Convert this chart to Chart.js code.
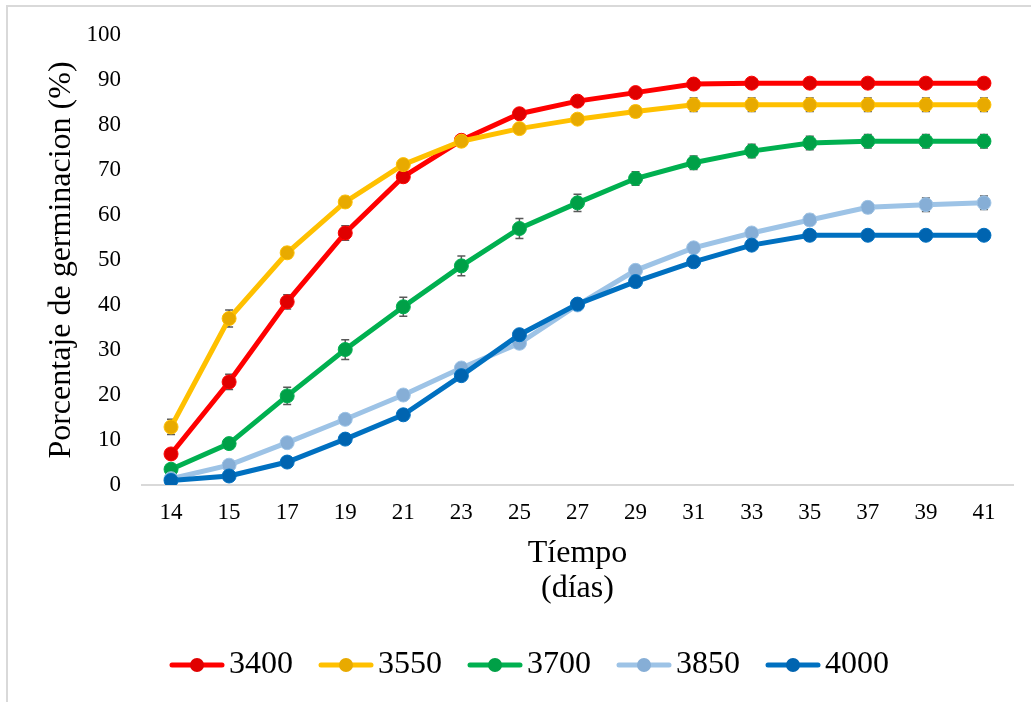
<!DOCTYPE html>
<html>
<head>
<meta charset="utf-8">
<script src="https://cdn.jsdelivr.net/npm/chart.js@4"></script>
<style>
  html, body { margin: 0; padding: 0; background: #fff; }
  #wrap { position: relative; width: 1031px; height: 702px; }
  #frame { position: absolute; left: 6px; top: 5px; right: -10px; bottom: -10px;
           border-left: 2px solid #d9d9d9; border-top: 2px solid #d9d9d9; pointer-events: none; }
</style>
</head>
<body>
<div id="wrap">
  <canvas id="germChart"></canvas>
  <div id="frame"></div>
</div>
<script>
// Germination curves by altitude

const days = ['14', '15', '17', '19', '21', '23', '25', '27', '29', '31', '33', '35', '37', '39', '41'];
const seriesNames = ['3400', '3550', '3700', '3850', '4000'];

const germ3400 = [6.9, 22.9, 40.7, 56.0, 68.5, 76.6, 82.5, 85.3, 87.2, 89.1, 89.3, 89.3, 89.3, 89.3, 89.3];
const germ3550 = [12.9, 37.0, 51.6, 62.9, 71.2, 76.4, 79.2, 81.3, 83.0, 84.5, 84.5, 84.5, 84.5, 84.5, 84.5];
const germ3700 = [3.5, 9.2, 19.8, 30.1, 39.6, 48.7, 57.0, 62.7, 68.1, 71.6, 74.2, 76.0, 76.4, 76.4, 76.4];
const germ3850 = [1.4, 4.4, 9.4, 14.6, 20.0, 26.0, 31.5, 40.0, 47.7, 52.7, 56.0, 58.9, 61.7, 62.3, 62.7];
const germ4000 = [1.0, 2.0, 5.1, 10.2, 15.6, 24.3, 33.4, 40.2, 45.2, 49.6, 53.3, 55.5, 55.5, 55.5, 55.5];

// +/- error for each point
const err3400 = [0.8, 1.7, 1.6, 1.6, 1.2, 1.0, 0.8, 0.8, 0.6, 0.5, 0.5, 0.5, 0.5, 0.5, 0.5];
const err3550 = [1.7, 1.9, 1.2, 1.2, 1.0, 1.0, 1.0, 1.0, 1.2, 1.5, 1.5, 1.5, 1.5, 1.5, 1.5];
const err3700 = [0.8, 1.0, 1.9, 2.2, 2.1, 2.2, 2.2, 1.9, 1.5, 1.5, 1.5, 1.5, 1.5, 1.5, 1.5];
const err3850 = [0.5, 0.8, 0.8, 0.8, 0.8, 0.8, 1.0, 1.0, 1.0, 1.0, 1.0, 1.2, 1.2, 1.5, 1.5];
const err4000 = [0.3, 0.5, 0.5, 0.5, 0.5, 0.5, 0.5, 0.5, 0.5, 0.5, 0.5, 0.5, 0.5, 0.5, 0.5];

const yTicks = [0, 10, 20, 30, 40, 50, 60, 70, 80, 90, 100];

const allValues = [germ3400, germ3550, germ3700, germ3850, germ4000];
const allErrors = [err3400, err3550, err3700, err3850, err4000];
const lineColors = ['#FF0000', '#FFC000', '#00B050', '#9DC3E6', '#0070C0'];
const markColors = ['#E00000', '#E8AA00', '#00A047', '#86AED6', '#0064B0'];

const serif = 'Liberation Serif, Times New Roman, serif';

// little line+marker picture for the legend
function legendSwatch(lineColor, markColor) {
  const c = document.createElement('canvas');
  c.width = 56;
  c.height = 16;
  const g = c.getContext('2d');
  g.strokeStyle = lineColor;
  g.lineWidth = 5;
  g.lineCap = 'round';
  g.beginPath();
  g.moveTo(3, 8);
  g.lineTo(53, 8);
  g.stroke();
  g.fillStyle = markColor;
  g.beginPath();
  g.arc(28, 8, 7, 0, Math.PI * 2);
  g.fill();
  return c;
}

const errorBars = {
  id: 'errorBars',
  beforeDatasetsDraw(chart) {
    const ctx = chart.ctx;
    const yScale = chart.scales.y;
    ctx.save();
    ctx.strokeStyle = '#595959';
    ctx.lineWidth = 1.5;
    chart.data.datasets.forEach((ds, i) => {
      const meta = chart.getDatasetMeta(i);
      meta.data.forEach((pt, j) => {
        const v = ds.data[j];
        const e = allErrors[i][j];
        const top = yScale.getPixelForValue(v + e);
        const bot = yScale.getPixelForValue(v - e);
        ctx.beginPath();
        ctx.moveTo(pt.x, top);
        ctx.lineTo(pt.x, bot);
        ctx.moveTo(pt.x - 4, top);
        ctx.lineTo(pt.x + 4, top);
        ctx.moveTo(pt.x - 4, bot);
        ctx.lineTo(pt.x + 4, bot);
        ctx.stroke();
      });
    });
    ctx.restore();
  }
};

const datasets = seriesNames.map((name, i) => ({
  label: name,
  data: allValues[i],
  borderColor: lineColors[i],
  backgroundColor: lineColors[i],
  borderWidth: 5,
  pointRadius: 7,
  pointBackgroundColor: markColors[i],
  pointBorderColor: lineColors[i],
  pointBorderWidth: 1,
  tension: 0,
  order: seriesNames.length - i
}));

const ctx = document.getElementById('germChart').getContext('2d');

new Chart(ctx, {
  type: 'line',
  data: { labels: days, datasets: datasets },
  plugins: [errorBars],
  options: {
    responsive: true,
    maintainAspectRatio: false,
    animation: false,
    layout: { padding: { top: 35, left: 57, right: 18, bottom: 11 } },
    plugins: {
      tooltip: { enabled: false },
      legend: {
        position: 'bottom',
        labels: {
          usePointStyle: true,
          pointStyleWidth: 32,
          padding: 37,
          color: '#000',
          font: { family: serif, size: 32 },
          sort: (a, b) => a.datasetIndex - b.datasetIndex,
          generateLabels: function (chart) {
            return chart.data.datasets.map((ds, i) => ({
              text: ds.label,
              datasetIndex: i,
              fontColor: '#000',
              pointStyle: legendSwatch(lineColors[i], markColors[i]),
              hidden: false,
              lineWidth: 0
            }));
          }
        }
      }
    },
    scales: {
      x: {
        offset: true,
        grid: { display: false, drawTicks: false },
        border: { display: true, color: '#d9d9d9', width: 2 },
        ticks: { color: '#000', padding: 14, maxRotation: 0, font: { family: serif, size: 23 } },
        title: {
          display: true,
          text: ['Tíempo', '(días)'],
          color: '#000',
          padding: { top: 0, bottom: 6 },
          font: { family: serif, size: 32, lineHeight: 1.1 }
        },
        afterFit: function (scale) { scale.height = 127; }
      },
      y: {
        min: 0,
        max: 100,
        afterBuildTicks: function (scale) { scale.ticks = yTicks.map(v => ({ value: v })); },
        grid: { display: false, drawTicks: false },
        border: { display: false },
        ticks: { color: '#000', padding: 21, font: { family: serif, size: 23 } },
        title: {
          display: true,
          text: 'Porcentaje de germinacion (%)',
          color: '#000',
          padding: { top: -15, bottom: 0 },
          font: { family: serif, size: 32 }
        },
        afterFit: function (scale) { scale.width = 85; }
      }
    }
  }
});
</script>
</body>
</html>
